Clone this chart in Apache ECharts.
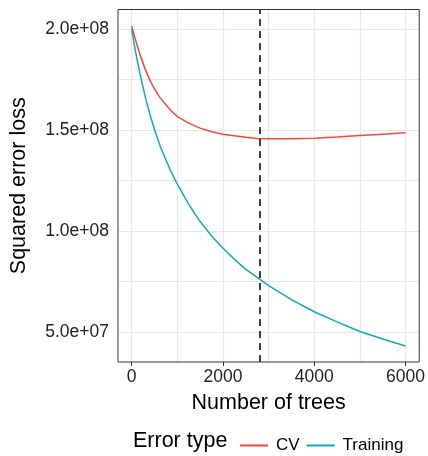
<!DOCTYPE html>
<html>
<head>
<meta charset="utf-8">
<script src="https://cdn.jsdelivr.net/npm/echarts@6/dist/echarts.min.js"></script>
<style>
html,body{margin:0;padding:0;background:#fff;}
#c{width:428px;height:456px;}
</style>
</head>
<body>
<div id="c"></div>
<script>
// ---- data ----
var trees = [0,50,100,150,200,300,400,500,625,750,875,1000,1250,1500,1750,2000,2250,2500,2750,3000,3500,4000,4500,5000,5500,6000];
var cvLoss = [2.015e8,1.975e8,1.935e8,1.897e8,1.862e8,1.80e8,1.748e8,1.703e8,1.66e8,1.626e8,1.594e8,1.567e8,1.535e8,1.51e8,1.492e8,1.48e8,1.472e8,1.465e8,1.459e8,1.457e8,1.458e8,1.46e8,1.466e8,1.473e8,1.48e8,1.487e8];
var trainLoss = [2.00e8,1.933e8,1.871e8,1.813e8,1.76e8,1.663e8,1.578e8,1.503e8,1.42e8,1.352e8,1.288e8,1.232e8,1.132e8,1.047e8,9.76e7,9.15e7,8.6e7,8.1e7,7.7e7,7.3e7,6.6e7,6.0e7,5.5e7,5.02e7,4.65e7,4.3e7];
var bestIter = 2795;
var xTicks = [0,2000,4000,6000];
var xTickLabels = ['0','2000','4000','6000'];
var xMinor = [1000,3000,5000];
var yTicks = [5e7,1e8,1.5e8,2e8];
var yTickLabels = ['5.0e+07','1.0e+08','1.5e+08','2.0e+08'];
var yMinor = [7.5e7,1.25e8,1.75e8];
var seriesNames = ['CV','Training'];
var legendTitle = 'Error type';
var xTitle = 'Number of trees';
var yTitle = 'Squared error loss';

function pairs(xs, ys){ return xs.map(function(x,i){ return [x, ys[i]]; }); }

var gridColor = '#e8e8e8';
var gridLines = [];
xTicks.concat(xMinor).forEach(function(v){ gridLines.push({xAxis: v}); });
yTicks.concat(yMinor).forEach(function(v){ gridLines.push({yAxis: v}); });

var chart = echarts.init(document.getElementById('c'));
var fontFam = 'Liberation Sans, Arial, sans-serif';
chart.setOption({
  animation: false,
  backgroundColor: '#fff',
  grid: {left: 118, right: 8, top: 9.5, bottom: 94, show: true, borderColor: '#333', borderWidth: 1, backgroundColor: 'transparent', z: 10},
  xAxis: {
    type: 'value', min: -300, max: 6300,
    name: xTitle, nameLocation: 'middle', nameGap: 30,
    nameTextStyle: {fontSize: 21.5, color: '#000', fontFamily: fontFam},
    axisLine: {show: false},
    axisTick: {show: true, length: 4, lineStyle: {color: '#333', width: 1}, customValues: xTicks},
    axisLabel: {customValues: xTicks, fontSize: 17.5, color: '#222', fontFamily: fontFam, margin: 6,
      formatter: function(v){ var i = xTicks.indexOf(v); return i >= 0 ? xTickLabels[i] : ''; }},
    splitLine: {show: false}
  },
  yAxis: {
    type: 'value', min: 3.51e7, max: 2.098e8,
    name: yTitle, nameLocation: 'middle', nameGap: 88,
    nameTextStyle: {fontSize: 21.5, color: '#000', fontFamily: fontFam},
    axisLine: {show: false},
    axisTick: {show: true, length: 4, lineStyle: {color: '#333', width: 1}, customValues: yTicks},
    axisLabel: {customValues: yTicks, fontSize: 17.5, color: '#222', fontFamily: fontFam, margin: 9,
      formatter: function(v){ var i = yTicks.indexOf(v); return i >= 0 ? yTickLabels[i] : ''; }},
    splitLine: {show: false}
  },
  legend: {
    data: seriesNames, left: 235, top: 432, icon: 'rect', itemWidth: 28, itemHeight: 2, itemGap: 7,
    textStyle: {fontSize: 17, color: '#000', fontFamily: fontFam, padding: [0,0,0,3]}
  },
  graphic: [{
    type: 'text', left: 133, top: 430,
    style: {text: legendTitle, fontSize: 21.5, fill: '#000', fontFamily: fontFam}
  }],
  series: [
    {type: 'line', name: '_grid', data: [], z: 1, silent: true,
      markLine: {silent: true, z: 1, symbol: 'none', label: {show: false}, animation: false,
        lineStyle: {color: gridColor, width: 1.2, type: 'solid'}, data: gridLines}},
    {type: 'line', name: seriesNames[0], data: pairs(trees, cvLoss), smooth: false, showSymbol: false, symbol: 'none', z: 3,
      lineStyle: {color: '#F4473D', width: 1.5}, itemStyle: {color: '#F4473D'}},
    {type: 'line', name: seriesNames[1], data: pairs(trees, trainLoss), smooth: false, showSymbol: false, symbol: 'none', z: 3,
      lineStyle: {color: '#0AADB3', width: 1.5}, itemStyle: {color: '#0AADB3'},
      markLine: {silent: true, z: 5, symbol: 'none', label: {show: false}, animation: false,
        lineStyle: {color: '#000', width: 1.5, type: [7,5]}, data: [{xAxis: bestIter}]}}
  ]
});
</script>
</body>
</html>
